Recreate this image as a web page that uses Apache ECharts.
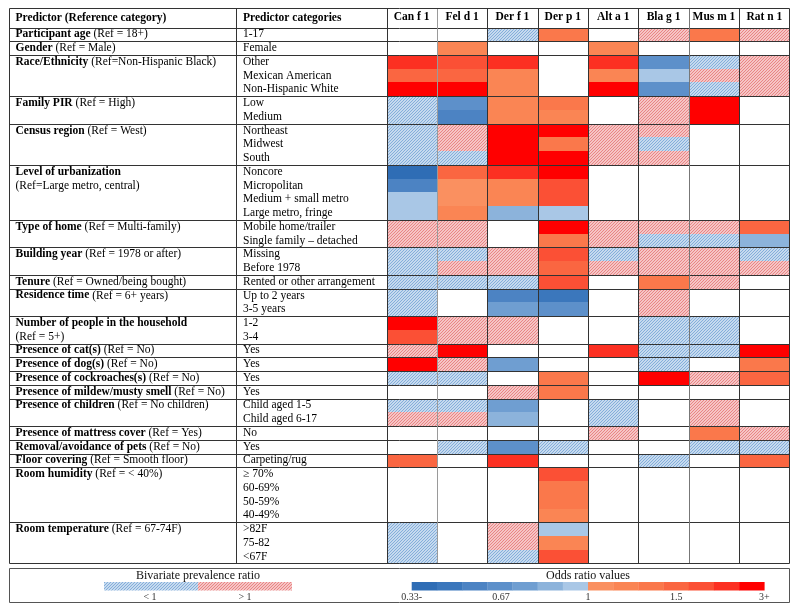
<!DOCTYPE html>
<html><head><meta charset="utf-8">
<script src="https://cdn.jsdelivr.net/npm/echarts@6/dist/echarts.min.js"></script>
<style>html,body{margin:0;padding:0;background:#fff}#c{width:800px;height:613px}</style>
</head><body><div id="c"></div>
<script>
// ---------------- data ----------------
const allergens = ['Can f 1', 'Fel d 1', 'Der f 1', 'Der p 1', 'Alt a 1', 'Bla g 1', 'Mus m 1', 'Rat n 1'];

const categories = ['1-17', 'Female', 'Other', 'Mexican American', 'Non-Hispanic White', 'Low', 'Medium',
  'Northeast', 'Midwest', 'South', 'Noncore', 'Micropolitan', 'Medium + small metro', 'Large metro, fringe',
  'Mobile home/trailer', 'Single family \u2013 detached', 'Missing', 'Before 1978', 'Rented or other arrangement',
  'Up to 2 years', '3-5 years', '1-2', '3-4', 'Yes', 'Yes', 'Yes', 'Yes', 'Child aged 1-5', 'Child aged 6-17',
  'No', 'Yes', 'Carpeting/rug', '\u2265 70%', '60-69%', '50-59%', '40-49%', '>82F', '75-82', '<67F'];

// predictor label shown on a given row: [bold part, normal part]
const predictorLines = {
  0: ['Participant age', '(Ref = 18+)'],
  1: ['Gender', '(Ref = Male)'],
  2: ['Race/Ethnicity', '(Ref=Non-Hispanic Black)'],
  5: ['Family PIR', '(Ref = High)'],
  7: ['Census region', '(Ref = West)'],
  10: ['Level of urbanization', ''],
  11: ['', '(Ref=Large metro, central)'],
  14: ['Type of home', '(Ref = Multi-family)'],
  16: ['Building year', '(Ref = 1978 or after)'],
  18: ['Tenure', '(Ref = Owned/being bought)'],
  19: ['Residence time', '(Ref = 6+ years)'],
  21: ['Number of people in the household', ''],
  22: ['', '(Ref = 5+)'],
  23: ['Presence of cat(s)', '(Ref = No)'],
  24: ['Presence of dog(s)', '(Ref = No)'],
  25: ['Presence of cockroaches(s)', '(Ref = No)'],
  26: ['Presence of mildew/musty smell', '(Ref = No)'],
  27: ['Presence of children', '(Ref = No children)'],
  29: ['Presence of mattress cover', '(Ref = Yes)'],
  30: ['Removal/avoidance of pets', '(Ref = No)'],
  31: ['Floor covering', '(Ref = Smooth floor)'],
  32: ['Room humidity', '(Ref = < 40%)'],
  36: ['Room temperature', '(Ref = 67-74F)']
};

// first row index of each predictor group
const groupStarts = [0, 1, 2, 5, 7, 10, 14, 16, 18, 19, 21, 23, 24, 25, 26, 27, 29, 30, 31, 32, 36];

// cell values: number = adjusted odds ratio, '<1' / '>1' = bivariate prevalence ratio only, null = none
const canf1 = [null, null, 2.5, 1.5, 3.2, '<1', '<1', '<1', '<1', '<1', 0.33, 0.53, 0.95, 0.95, '>1', '>1',
  '<1', '<1', '<1', '<1', '<1', 3.2, 1.9, '>1', 3.2, '<1', null, '<1', '>1', null, null, 1.5,
  null, null, null, null, '<1', '<1', '<1'];
const feld1 = [null, 1.15, 1.9, 1.5, 3.2, 0.66, 0.53, '>1', '>1', '<1', 1.5, 1.05, 1.05, 1.15, '>1', '>1',
  '<1', '>1', '<1', null, null, '>1', '>1', 3.2, '>1', '<1', null, '<1', '>1', null, '<1', null,
  null, null, null, null, null, null, null];
const derf1 = ['<1', null, 2.5, 1.15, 1.15, 1.15, 1.18, 3.2, 3.2, 3.2, 2.5, 1.15, 1.15, 0.87, null, null,
  '>1', '>1', '<1', 0.53, 0.78, '>1', '>1', null, 0.78, null, '>1', 0.78, 0.85, null, 0.66, 2.5,
  null, null, null, null, '>1', '>1', '<1'];
const derp1 = [1.27, null, null, null, null, 1.27, 1.15, 3.2, 1.27, 3.2, 3.2, 1.9, 1.9, 0.95, 3.2, 1.27,
  1.9, 1.5, 1.9, 0.41, 0.66, null, null, null, null, 1.27, 1.27, null, null, null, '<1', null,
  1.9, 1.27, 1.27, 1.15, 0.95, 1.15, 1.9];
const alta1 = [null, 1.15, 2.5, 1.15, 3.2, null, null, '>1', '>1', '>1', null, null, null, null, '>1', '>1',
  '<1', '>1', null, null, null, null, null, 2.5, null, null, null, '<1', '<1', '>1', null, null,
  null, null, null, null, null, null, null];
const blag1 = ['>1', null, 0.66, 0.95, 0.66, '>1', '>1', '>1', '<1', '>1', null, null, null, null, '>1', '<1',
  '>1', '>1', 1.27, '>1', '>1', '<1', '<1', '<1', '<1', 3.2, null, null, null, null, null, '<1',
  null, null, null, null, null, null, null];
const musm1 = [1.27, null, '<1', '>1', '<1', 3.2, 2.9, null, null, null, null, null, null, null, '>1', '<1',
  '>1', '>1', '>1', null, null, '<1', '<1', '<1', null, '>1', null, '>1', '>1', 1.27, '<1', null,
  null, null, null, null, null, null, null];
const ratn1 = ['>1', null, '>1', '>1', '>1', null, null, null, null, null, null, null, null, null, 1.5, 0.87,
  '<1', '>1', null, null, null, null, null, 3.2, 1.27, 1.5, null, null, null, '>1', '<1', 1.5,
  null, null, null, null, null, null, null];
const columns = [canf1, feld1, derf1, derp1, alta1, blag1, musm1, ratn1];

// odds-ratio colour scale (14 bins)
const orEdges = [0.36, 0.45, 0.61, 0.74, 0.83, 0.91, 1, 1.1, 1.2, 1.35, 1.65, 2.2, 2.8];
const orColors = ['#2f6db5', '#3b77bc', '#4c83c3', '#5d90ca', '#6f9ed1', '#8cb3db', '#a9c7e6',
  '#fa9060', '#fa8554', '#fa784b', '#fa6641', '#fb5035', '#fc3022', '#ff0000'];
const orTickLabels = ['0.33-', '0.67', '1', '1.5', '3+'];
const orTickBins = [0, 3.55, 7, 10.5, 14];

// ---------------- build ----------------
const FONT = "'Liberation Serif', 'Times New Roman', serif";
const FS = 11.5;
const T_LEFT = 9.5, T_RIGHT = 789.5, T_TOP = 8.5, T_BOTTOM = 563.5, DIV_X = 236.5;

function hatch(bg, fg) {
  const cv = document.createElement('canvas'); cv.width = 3; cv.height = 3;
  const g = cv.getContext('2d'); g.fillStyle = bg; g.fillRect(0, 0, 3, 3);
  g.strokeStyle = fg; g.lineWidth = 1.15;
  g.beginPath();
  g.moveTo(0, 3); g.lineTo(3, 0);
  g.moveTo(-1, 1); g.lineTo(1, -1);
  g.moveTo(2, 4); g.lineTo(4, 2);
  g.stroke();
  return { image: cv, repeat: 'repeat' };
}
const hatchBlue = hatch('#e4eef8', '#80abd9');
const hatchRed = hatch('#fbe3e3', '#e98181');

const solidData = [], hatchData = [];
columns.forEach((col, c) => col.forEach((v, r) => {
  if (v === null) return;
  if (typeof v === 'number') solidData.push([c, r, v]);
  else hatchData.push([c, r, v === '<1' ? 0 : 1]);
}));

const pieces = [];
for (let i = 0; i <= orEdges.length; i++) {
  const p = { color: orColors[i] };
  if (i > 0) p.gte = orEdges[i - 1];
  if (i < orEdges.length) p.lt = orEdges[i];
  pieces.push(p);
}

function cellRect(api) {
  const p = api.coord([api.value(0), api.value(1)]);
  const s = api.size([1, 1]);
  const x0 = Math.round(p[0] - s[0] / 2), x1 = Math.round(p[0] + s[0] / 2);
  const y0 = Math.round(p[1] - s[1] / 2), y1 = Math.round(p[1] + s[1] / 2);
  return { x: x0, y: y0, width: x1 - x0, height: y1 - y0 };
}

const rowIdx = categories.map((_, i) => String(i));

const chart = echarts.init(document.getElementById('c'), null, { renderer: 'canvas' });

const graphics = [
  { type: 'rect', shape: { x: T_LEFT, y: T_TOP, width: T_RIGHT - T_LEFT, height: T_BOTTOM - T_TOP },
    style: { fill: null, stroke: '#333', lineWidth: 1 }, z: 10 },
  { type: 'line', shape: { x1: DIV_X, y1: T_TOP, x2: DIV_X, y2: T_BOTTOM }, style: { stroke: '#333', lineWidth: 1 }, z: 10 },
  { type: 'text', x: 15.5, y: 18, style: { text: 'Predictor (Reference category)', font: 'bold ' + FS + 'px ' + FONT, fill: '#000', verticalAlign: 'middle' } },
  { type: 'text', x: 243, y: 18, style: { text: 'Predictor categories', font: 'bold ' + FS + 'px ' + FONT, fill: '#000', verticalAlign: 'middle' } },
  // legend box
  { type: 'rect', shape: { x: 9.5, y: 568.5, width: 780, height: 34 }, style: { fill: null, stroke: '#555', lineWidth: 1 } },
  { type: 'text', x: 198, y: 576, style: { text: 'Bivariate prevalence ratio', font: '12px ' + FONT, fill: '#111', align: 'center', verticalAlign: 'middle' } },
  { type: 'rect', shape: { x: 104, y: 582, width: 94, height: 8.5 }, style: { fill: hatchBlue } },
  { type: 'rect', shape: { x: 198, y: 582, width: 94, height: 8.5 }, style: { fill: hatchRed } },
  { type: 'text', x: 150, y: 597, style: { text: '< 1', font: '10px ' + FONT, fill: '#333', align: 'center', verticalAlign: 'middle' } },
  { type: 'text', x: 245, y: 597, style: { text: '> 1', font: '10px ' + FONT, fill: '#333', align: 'center', verticalAlign: 'middle' } },
  { type: 'text', x: 588, y: 576, style: { text: 'Odds ratio values', font: '12px ' + FONT, fill: '#111', align: 'center', verticalAlign: 'middle' } }
];
const barX0 = 411.7, barX1 = 764.3, binW = (barX1 - barX0) / orColors.length;
orColors.forEach((col, i) => graphics.push({ type: 'rect',
  shape: { x: barX0 + i * binW, y: 582, width: binW + 0.3, height: 8.5 }, style: { fill: col } }));
orTickLabels.forEach((t, i) => graphics.push({ type: 'text', x: barX0 + orTickBins[i] * binW, y: 597,
  style: { text: t, font: '10px ' + FONT, fill: '#333', align: 'center', verticalAlign: 'middle' } }));

chart.setOption({
  animation: false,
  backgroundColor: '#fff',
  grid: { left: 386.5, right: 10.5, top: 27.5, bottom: 49.5, containLabel: false, outerBoundsMode: 'none' },
  xAxis: {
    type: 'category', data: allergens, position: 'top',
    axisLine: { show: false }, axisTick: { show: false }, splitLine: { show: false },
    axisLabel: { interval: 0, margin: 4, fontWeight: 'bold', fontSize: FS, fontFamily: FONT, color: '#000' }
  },
  yAxis: [
    { type: 'category', data: rowIdx, inverse: true, position: 'left',
      axisLine: { show: false }, axisTick: { show: false }, splitLine: { show: false },
      axisLabel: { interval: 0, align: 'left', margin: 143.5, fontSize: FS, fontFamily: FONT, color: '#000',
        formatter: (v, i) => categories[+v] } },
    { type: 'category', data: rowIdx, inverse: true, position: 'left',
      axisLine: { show: false }, axisTick: { show: false }, splitLine: { show: false },
      axisLabel: { interval: 0, align: 'left', margin: 371, fontSize: FS, fontFamily: FONT, color: '#000',
        formatter: (v) => {
          const p = predictorLines[+v];
          if (!p) return '';
          let s = '';
          if (p[0]) s += '{b|' + p[0] + '}';
          if (p[1]) s += '{n|' + (p[0] ? ' ' : '') + p[1] + '}';
          return s;
        },
        rich: {
          b: { fontWeight: 'bold', fontSize: FS, fontFamily: FONT, color: '#000' },
          n: { fontSize: FS, fontFamily: FONT, color: '#000' }
        } } }
  ],
  visualMap: { type: 'piecewise', show: false, dimension: 2, seriesIndex: 0, pieces: pieces },
  graphic: graphics,
  series: [
    { type: 'custom', name: 'Odds ratio', data: solidData, encode: { x: 0, y: 1 },
      renderItem: (params, api) => ({ type: 'rect', shape: cellRect(api), style: { fill: api.visual('color') } }) },
    { type: 'custom', name: 'Bivariate PR', data: hatchData, encode: { x: 0, y: 1 },
      renderItem: (params, api) => ({ type: 'rect', shape: cellRect(api),
        style: { fill: api.value(2) === 0 ? hatchBlue : hatchRed } }) },
    { type: 'custom', name: 'rowLines', data: groupStarts.map(r => [0, r]), encode: { x: 0, y: 1 }, z: 5,
      renderItem: (params, api) => {
        const p = api.coord([0, api.value(1)]);
        const s = api.size([1, 1]);
        const y = Math.round(p[1] - s[1] / 2) + 0.5;
        return { type: 'line', shape: { x1: T_LEFT, y1: y, x2: T_RIGHT, y2: y }, style: { stroke: '#333', lineWidth: 1 } };
      } },
    { type: 'custom', name: 'colLines', data: allergens.map((a, c) => [c, 0]), encode: { x: 0, y: 1 }, z: 5,
      renderItem: (params, api) => {
        const c = api.value(0);
        const p = api.coord([c, 0]);
        const s = api.size([1, 1]);
        const x = Math.round(p[0] - s[0] / 2) + 0.5;
        const light = c === 1 ? '#9a9a9a' : (c === 6 ? '#777' : '#333');
        return { type: 'line', shape: { x1: x, y1: T_TOP, x2: x, y2: T_BOTTOM }, style: { stroke: light, lineWidth: 1 } };
      } }
  ]
});
</script>
</body></html>
